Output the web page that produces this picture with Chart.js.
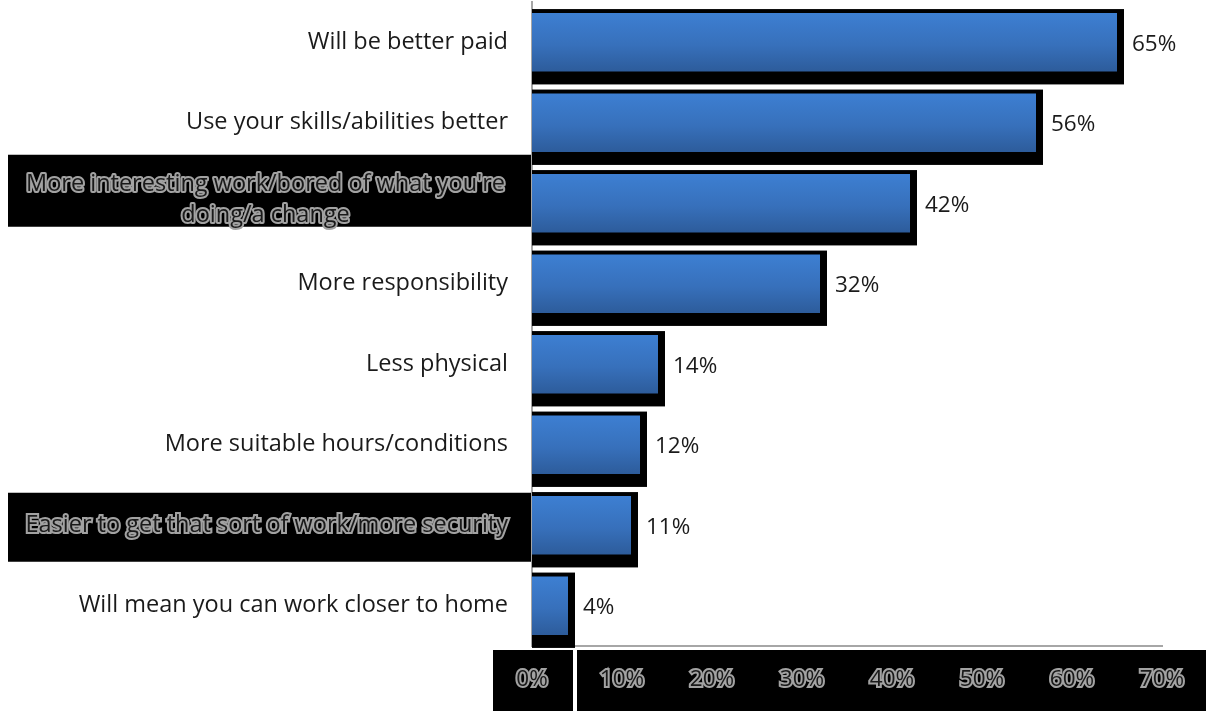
<!DOCTYPE html>
<html lang="en">
<head>
<meta charset="UTF-8" />
<title>reasons for changing job</title>
<script src="https://cdn.jsdelivr.net/npm/chart.js@4.4.1/dist/chart.umd.min.js"></script>
<style>
  html, body { margin: 0; padding: 0; background: #fff; }
  #wrap { width: 1206px; height: 711px; position: relative; }
</style>
</head>
<body>
<div id="wrap"><canvas id="chart" width="1206" height="711"></canvas></div>
<script>
const categories = [
  "Will be better paid",
  "Use your skills/abilities better",
  ["More interesting work/bored of what you're", "doing/a change"],
  "More responsibility",
  "Less physical",
  "More suitable hours/conditions",
  "Easier to get that sort of work/more security",
  "Will mean you can work closer to home",
];
const values = [65, 56, 42, 32, 14, 12, 11, 4];
const boxed = [2, 6]; // labels that sit on a black block

const FONT = "'Open Sans', 'Noto Sans', sans-serif";
const SIZE = 23.5;
const VALUE_SIZE = 22.5;
const TEXT = "#1a1a1a";
const OUTLINE = "#a2a2a2";
const BAR_FRAC = 0.725;

function barGradient(ctx) {
  const chart = ctx.chart;
  const y = chart.scales.y;
  if (!y || ctx.dataIndex == null) return "#3a78c6";
  const c = y.getPixelForValue(ctx.dataIndex);
  const h = (y.height / categories.length) * BAR_FRAC;
  if (!isFinite(c) || !isFinite(h) || h <= 0) return "#3a78c6";
  const g = chart.ctx.createLinearGradient(0, c - h / 2, 0, c + h / 2);
  g.addColorStop(0, "#3d7fd2");
  g.addColorStop(0.55, "#3770bb");
  g.addColorStop(1, "#2d5c9b");
  return g;
}

const decor = {
  id: "decor",
  beforeDraw(chart) {
    const { ctx, chartArea, scales } = chart;
    const y = scales.y;
    ctx.save();
    ctx.fillStyle = "#000";
    // blocks behind two of the category labels
    boxed.forEach((i) => {
      const c = y.getPixelForTick(i);
      const top = i === 2 ? c - 48.5 : c - 32.5;
      const bottom = i === 2 ? c + 23.5 : c + 36.5;
      ctx.fillRect(8, top, chartArea.left - 9, bottom - top);
    });
    // strip behind the value axis labels
    const top = chartArea.bottom + 4;
    ctx.fillRect(chartArea.left - 39, top, 80, chart.height - top);
    ctx.fillRect(chartArea.left + 45, top, chart.width - chartArea.left - 45, chart.height - top);
    ctx.restore();
  },
  beforeDatasetsDraw(chart) {
    // black drop frame under each bar
    const { ctx } = chart;
    const meta = chart.getDatasetMeta(0);
    ctx.save();
    ctx.fillStyle = "#000";
    meta.data.forEach((el) => {
      const h = el.height;
      ctx.fillRect(el.base, el.y - h / 2 - 4, el.x - el.base + 7, h + 17);
    });
    ctx.restore();
  },
  afterDatasetsDraw(chart) {
    const { ctx, chartArea } = chart;
    const meta = chart.getDatasetMeta(0);
    ctx.save();
    ctx.font = `${VALUE_SIZE}px ${FONT}`;
    ctx.fillStyle = TEXT;
    ctx.textBaseline = "middle";
    ctx.textAlign = "left";
    meta.data.forEach((el, i) => {
      ctx.fillText(values[i] + "%", el.x + 15, el.y + 2);
    });
    // two-line label, centred lines
    ctx.font = `${SIZE}px ${FONT}`;
    const y = chart.scales.y;
    const c = y.getPixelForTick(2);
    const lines = categories[2];
    const w1 = ctx.measureText(lines[0]).width;
    const cx = chartArea.left - 27 - w1 / 2;
    ctx.textAlign = "center";
    ctx.textBaseline = "alphabetic";
    ctx.lineWidth = 4;
    ctx.lineJoin = "round";
    ctx.strokeStyle = OUTLINE;
    [[lines[0], c - 12], [lines[1], c + 19]].forEach(([t, ty]) => {
      ctx.strokeText(t, cx, ty);
      ctx.fillText(t, cx, ty);
    });
    ctx.restore();
  },
};

new Chart(document.getElementById("chart"), {
  type: "bar",
  data: {
    labels: categories,
    datasets: [{
      data: values,
      backgroundColor: barGradient,
      borderWidth: 0,
      categoryPercentage: 1,
      barPercentage: BAR_FRAC,
    }],
  },
  options: {
    indexAxis: "y",
    responsive: false,
    animation: false,
    devicePixelRatio: 1,
    layout: { padding: { top: 2, right: 44, left: 0, bottom: 0 } },
    plugins: { legend: { display: false }, tooltip: { enabled: false } },
    scales: {
      x: {
        min: 0,
        max: 70,
        ticks: {
          stepSize: 10,
          callback: (v) => v + "%",
          font: { family: FONT, size: VALUE_SIZE },
          color: TEXT,
          textStrokeColor: OUTLINE,
          textStrokeWidth: 4,
          padding: 20,
          maxRotation: 0,
        },
        grid: { display: false, drawTicks: false },
        border: { display: true, color: "#a6a6a6", width: 2 },
        afterFit(s) {
          s.height = 65;
          s.paddingLeft = 0;
          s.paddingRight = 0;
        },
      },
      y: {
        ticks: {
          autoSkip: false,
          font: { family: FONT, size: SIZE },
          color: (c) => (c.index === 2 ? "rgba(0,0,0,0)" : TEXT),
          textStrokeColor: OUTLINE,
          textStrokeWidth: (c) => (c.index === 6 ? 4 : 0),
          padding: 24,
        },
        grid: { display: false, drawTicks: false },
        border: { display: true, color: "#a6a6a6", width: 2 },
        afterFit(s) {
          s.width = 532;
          s.paddingTop = 0;
          s.paddingBottom = 0;
        },
      },
    },
  },
  plugins: [decor],
});
</script>
</body>
</html>
